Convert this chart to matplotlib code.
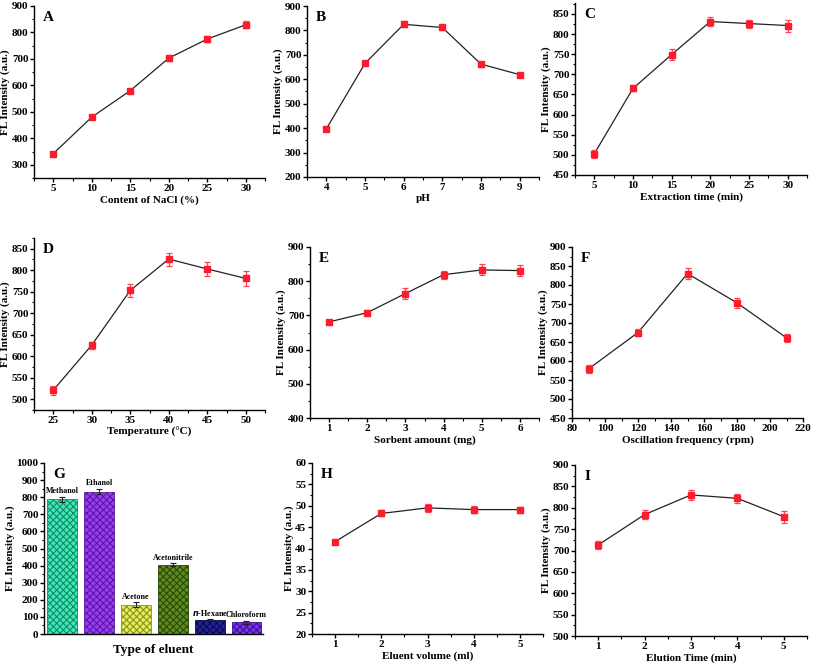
import matplotlib
matplotlib.use('Agg')
import matplotlib.pyplot as plt
from matplotlib.ticker import MultipleLocator, AutoMinorLocator

plt.rcParams.update({
    'font.family': 'serif',
    'font.serif': ['Liberation Serif', 'DejaVu Serif'],
    'font.weight': 'bold',
    'font.size': 8,
    'axes.labelweight': 'bold',
    'axes.linewidth': 1.0,
    'hatch.linewidth': 0.8,
})

# ---- data ----
nacl_x = [5, 10, 15, 20, 25, 30]
nacl_y = [342, 480, 580, 703, 775, 829]
nacl_err = [8, 8, 8, 12, 10, 14]

ph_x = [4, 5, 6, 7, 8, 9]
ph_y = [397, 665, 825, 812, 662, 619]
ph_err = [5, 8, 12, 12, 10, 8]

ext_x = [5, 10, 15, 20, 25, 30]
ext_y = [503, 665, 749, 831, 826, 821]
ext_err = [10, 7, 13, 12, 10, 15]

temp_x = [25, 30, 35, 40, 45, 50]
temp_y = [521, 626, 753, 826, 803, 781]
temp_err = [10, 8, 15, 15, 17, 18]

sorb_x = [1, 2, 3, 4, 5, 6]
sorb_y = [681, 708, 764, 819, 833, 831]
sorb_err = [7, 9, 15, 12, 16, 16]

osc_x = [90, 120, 150, 180, 210]
osc_y = [579, 675, 830, 753, 661]
osc_err = [10, 9, 15, 14, 10]

eluents = ['Methanol', 'Ethanol', 'Acetone', 'Acetonitrile', 'n-Hexane', 'Chloroform']
eluent_y = [787, 832, 170, 405, 80, 68]
eluent_err = [15, 15, 15, 8, 5, 10]

vol_x = [1, 2, 3, 4, 5]
vol_y = [41.6, 48.2, 49.5, 49.1, 49.1]
vol_err = [0.4, 0.7, 0.9, 0.8, 0.7]

etime_x = [1, 2, 3, 4, 5]
etime_y = [713, 784, 830, 822, 779]
etime_err = [10, 10, 12, 11, 14]

W, H = 813, 667
fig = plt.figure(figsize=(W / 100, H / 100), dpi=100)


def make_axes(left, right, top, bottom):
    return fig.add_axes([left / W, 1 - bottom / H, (right - left) / W, (bottom - top) / H])


def style(ax, letter, xlabel):
    for s in ('top', 'right'):
        ax.spines[s].set_visible(False)
    ax.tick_params(which='major', direction='out', length=3, width=1.0,
                   labelsize=8, pad=1)
    ax.tick_params(which='minor', direction='out', length=1.8, width=0.8)
    for lab in ax.get_xticklabels() + ax.get_yticklabels():
        lab.set_fontweight('bold')
    ax.set_ylabel('FL Intensity (a.u.)', fontsize=8, labelpad=1)
    ax.set_xlabel(xlabel, fontsize=8, labelpad=2)
    ax.text(0.04, 0.97, letter, transform=ax.transAxes, fontsize=11,
            fontweight='bold', va='top', ha='left')


def line_panel(rect, x, y, err, letter, xlabel, xlim, ylim, xstep, ystep):
    ax = make_axes(*rect)
    ax.plot(x, y, '-', color='#222222', lw=0.9, zorder=2)
    ax.errorbar(x, y, yerr=err, fmt='s', color='#ff1a2e', ms=4,
                ecolor='#ff4455', elinewidth=0.9, capsize=2.5, capthick=0.9,
                zorder=3)
    ax.set_xlim(*xlim)
    ax.set_ylim(*ylim)
    ax.xaxis.set_major_locator(MultipleLocator(xstep))
    ax.yaxis.set_major_locator(MultipleLocator(ystep))
    ax.xaxis.set_minor_locator(AutoMinorLocator(2))
    ax.yaxis.set_minor_locator(AutoMinorLocator(2))
    style(ax, letter, xlabel)
    return ax


line_panel((34, 265, 6, 178), nacl_x, nacl_y, nacl_err, 'A',
           'Content of NaCl (%)', (2.5, 32.5), (250, 900), 5, 100)
line_panel((307, 539, 6, 177), ph_x, ph_y, ph_err, 'B',
           'pH', (3.5, 9.5), (200, 900), 1, 100)
line_panel((575, 807, 3, 175), ext_x, ext_y, ext_err, 'C',
           'Extraction time (min)', (2.5, 32.5), (450, 877), 5, 50)
line_panel((34, 265, 238, 410), temp_x, temp_y, temp_err, 'D',
           'Temperature (°C)', (22.5, 52.5), (475, 875), 5, 50)
line_panel((310, 539, 247, 418), sorb_x, sorb_y, sorb_err, 'E',
           'Sorbent amount (mg)', (0.5, 6.5), (400, 900), 1, 100)
line_panel((572, 803, 247, 418), osc_x, osc_y, osc_err, 'F',
           'Oscillation frequency (rpm)', (80, 220), (450, 900), 20, 50)
line_panel((312, 543, 463, 634), vol_x, vol_y, vol_err, 'H',
           'Eluent volume (ml)', (0.5, 5.5), (20, 60), 1, 5)
line_panel((575, 807, 465, 636), etime_x, etime_y, etime_err, 'I',
           'Elution Time (min)', (0.5, 5.5), (500, 900), 1, 50)

# ---- panel G: bar chart ----
axg = make_axes(44, 263, 463, 634)
face = ['#3fe8b8', '#9a3cf5', '#e4ee5a', '#5f8a1e', '#23239a', '#7a30f0']
edge = ['#138a66', '#5a1a9e', '#8a9420', '#2a4a08', '#0a0a50', '#3e1290']
pos = list(range(len(eluents)))
bars = axg.bar(pos, eluent_y, width=0.81, color=face, edgecolor=edge,
               linewidth=0.6, zorder=2)
for b in bars:
    b.set_hatch('xxxxx')
axg.errorbar(pos, eluent_y, yerr=eluent_err, fmt='none', ecolor='#222222',
             elinewidth=0.8, capsize=2, capthick=0.8, zorder=3)
labels_g = ['Methanol', 'Ethanol', 'Acetone', 'Acetonitrile',
            '$\\mathbf{\\it{n}}$-Hexane', 'Chloroform']
for p, v, e, lab in zip(pos, eluent_y, eluent_err, labels_g):
    axg.text(p, v + e + 10, lab, ha='center', va='bottom', fontsize=5.8,
             fontweight='bold')
axg.set_xlim(-0.5, 5.45)
axg.set_ylim(0, 1000)
axg.yaxis.set_major_locator(MultipleLocator(100))
axg.yaxis.set_minor_locator(AutoMinorLocator(2))
axg.set_xticks([])
style(axg, 'G', 'Type of eluent')
axg.xaxis.label.set_fontsize(9.5)
axg.xaxis.labelpad = 7

fig.savefig('out.png', dpi=100)
